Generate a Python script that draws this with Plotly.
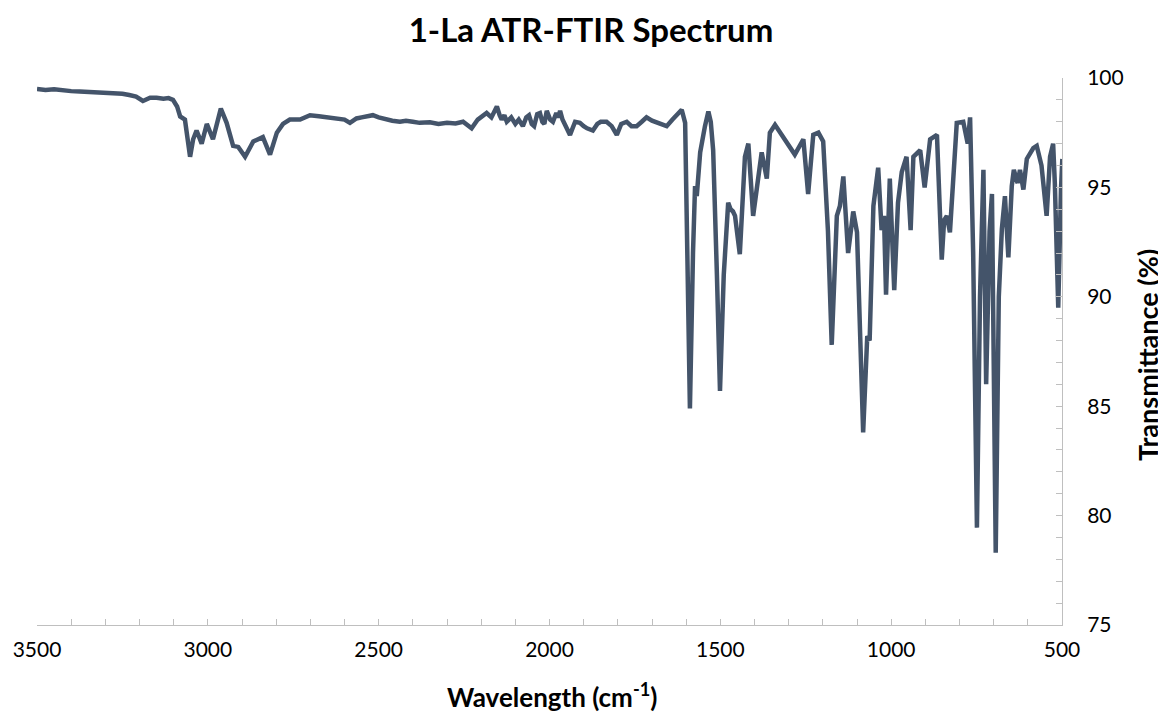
import plotly.graph_objects as go

wavenumber = [
    3500, 3475, 3450, 3425, 3400, 3375, 3350, 3325, 3300, 3275, 3250, 3230, 3210, 3190,
    3169, 3150, 3130, 3115, 3102, 3090, 3081, 3067, 3052, 3043, 3033, 3018, 3003, 2985,
    2962, 2945, 2926, 2911, 2891, 2867, 2839, 2818, 2798, 2780, 2760, 2730, 2701, 2675,
    2650, 2625, 2600, 2584, 2565, 2550, 2530, 2517, 2500, 2480, 2460, 2438, 2420, 2400,
    2380, 2350, 2325, 2300, 2275, 2253, 2240, 2228, 2210, 2195, 2184, 2170, 2162, 2154,
    2146, 2140, 2132, 2125, 2112, 2100, 2090, 2078, 2068, 2060, 2052, 2045, 2036, 2028,
    2021, 2015, 2008, 1998, 1990, 1980, 1974, 1969, 1962, 1955, 1940, 1925, 1911, 1900,
    1890, 1873, 1860, 1850, 1833, 1818, 1803, 1790, 1774, 1760, 1745, 1730, 1716, 1700,
    1690, 1675, 1657, 1640, 1613, 1603, 1595, 1589, 1580, 1574, 1569, 1559, 1545, 1535,
    1528, 1521, 1510, 1501, 1490, 1477, 1470, 1463, 1457, 1443, 1428, 1418, 1404, 1379,
    1364, 1355, 1340, 1316, 1282, 1257, 1243, 1228, 1213, 1199, 1185, 1174, 1159, 1150,
    1140, 1126, 1111, 1100, 1090, 1082, 1070, 1063, 1052, 1038, 1028, 1021, 1015, 1004,
    991, 980, 969, 955, 943, 935, 915, 902, 886, 866, 852, 845, 837, 828, 808, 789,
    776, 769, 760, 749, 740, 730, 722, 712, 705, 694, 685, 676, 667, 657, 647, 641,
    630, 623, 613, 603, 584, 574, 560, 545, 535, 526, 521, 511, 503, 499,
]
transmittance = [
    99.5, 99.45, 99.48, 99.42, 99.4, 99.38, 99.36, 99.35, 99.33, 99.3, 99.28, 99.22, 99.15, 98.95,
    99.1, 99.1, 99.05, 99.08, 99.0, 98.7, 98.24, 98.1, 96.4, 97.2, 97.6, 97.0, 97.9, 97.2,
    98.6, 97.95, 96.9, 96.85, 96.4, 97.1, 97.3, 96.5, 97.5, 97.9, 98.1, 98.1, 98.3, 98.25,
    98.2, 98.15, 98.1, 97.95, 98.15, 98.2, 98.25, 98.3, 98.2, 98.1, 98.05, 98.0, 98.05, 98.0,
    97.95, 97.98, 97.9, 97.95, 97.92, 98.0, 97.85, 97.7, 98.1, 98.25, 98.4, 98.2, 98.5, 98.7,
    98.3, 98.1, 98.3, 98.0, 98.2, 97.9, 98.1, 97.8, 98.2, 98.3, 97.9, 97.8, 98.35, 98.4,
    98.0, 97.9, 98.5, 98.1, 98.0, 98.4, 98.2, 98.5, 98.1, 97.9, 97.4, 98.0, 97.95, 97.8,
    97.7, 97.6, 97.9, 98.0, 98.0, 97.8, 97.4, 97.9, 98.0, 97.8, 97.8, 98.0, 98.2, 98.05,
    98.0, 97.9, 97.8, 98.1, 98.55, 97.95, 90.0, 84.9, 92.0, 95.06, 94.6, 96.6, 97.8, 98.47,
    98.0, 96.7, 91.0, 85.7, 91.0, 94.3, 94.0, 93.9, 93.7, 91.95, 96.4, 97.0, 93.7, 96.6,
    95.4, 97.5, 97.86, 97.27, 96.5, 97.2, 94.7, 97.4, 97.5, 97.1, 93.0, 87.8, 93.7, 94.15,
    95.5, 92.0, 93.9, 92.95, 88.0, 83.8, 88.2, 88.0, 94.15, 95.9, 93.05, 93.7, 90.1, 95.4,
    90.3, 94.3, 95.7, 96.4, 93.05, 96.4, 96.7, 95.0, 97.2, 97.4, 91.7, 93.5, 93.7, 92.95, 97.95, 98.0,
    97.0, 98.2, 92.0, 79.45, 90.0, 95.8, 86.0, 93.0, 94.7, 78.3, 90.0, 93.1, 94.6, 91.8, 95.06, 95.8,
    95.2, 95.8, 94.9, 96.3, 96.8, 96.9, 96.0, 93.7, 96.4, 97.0, 95.2, 89.5, 94.9, 96.3,
]

x_ticks = [3500, 3000, 2500, 2000, 1500, 1000, 500]
y_ticks = [75, 80, 85, 90, 95, 100]

title_text = "<b>1-La ATR-FTIR Spectrum</b>"
x_title = "<b>Wavelength (cm<sup>-1</sup>)</b>"
y_title = "<b>Transmittance (%)</b>"

FONT = "Lato, 'Open Sans', sans-serif"
AXIS = "#bfbfbf"

# page is drawn with an 8px body margin, so the figure is sized/placed to compensate
W, H = 1158, 705
L, T = 29, 70
PLOT_W, PLOT_H = 1025, 547

fig = go.Figure(
    go.Scatter(
        x=wavenumber,
        y=transmittance,
        mode="lines",
        line=dict(color="#44546a", width=4.5),
        hoverinfo="x+y",
    )
)

fig.update_layout(
    width=W,
    height=H,
    margin=dict(l=L, r=W - L - PLOT_W, t=T, b=H - T - PLOT_H, autoexpand=False),
    paper_bgcolor="white",
    plot_bgcolor="white",
    showlegend=False,
    font=dict(family=FONT, color="#000000", size=20),
    title=dict(
        text=title_text,
        x=583 / W,
        xref="container",
        xanchor="center",
        y=1 - 22 / H,
        yref="container",
        yanchor="middle",
        font=dict(family=FONT, size=33, color="#000000"),
        automargin=False,
    ),
    annotations=[
        dict(
            text=x_title, xref="paper", yref="paper", x=(544 - L) / PLOT_W, y=-(687 - T - PLOT_H) / PLOT_H,
            xanchor="center", yanchor="middle", showarrow=False,
            font=dict(family=FONT, size=26, color="#000000"),
        ),
        dict(
            text=y_title, xref="paper", yref="paper", x=(1140 - L) / PLOT_W, y=(T + PLOT_H - 347) / PLOT_H,
            xanchor="center", yanchor="middle", showarrow=False, textangle=-90,
            font=dict(family=FONT, size=27, color="#000000"),
        ),
    ],
)

fig.update_xaxes(
    range=[3500, 500],
    tickvals=x_ticks,
    ticktext=[str(v) for v in x_ticks],
    ticks="inside",
    ticklen=6,
    tickcolor=AXIS,
    showline=True,
    linecolor=AXIS,
    linewidth=1,
    showgrid=False,
    zeroline=False,
    automargin=False,
    minor=dict(dtick=100, ticks="inside", ticklen=6, tickcolor=AXIS, showgrid=False),
    tickfont=dict(family=FONT, size=21, color="#000000"),
    ticklabelstandoff=6,
)

fig.update_yaxes(
    range=[75, 100],
    side="right",
    tickvals=y_ticks,
    ticktext=[str(v) for v in y_ticks],
    ticks="inside",
    ticklen=6,
    tickcolor=AXIS,
    showline=True,
    linecolor=AXIS,
    linewidth=1,
    showgrid=False,
    zeroline=False,
    automargin=False,
    minor=dict(dtick=1, ticks="inside", ticklen=6, tickcolor=AXIS, showgrid=False),
    tickfont=dict(family=FONT, size=21, color="#000000"),
    ticklabelstandoff=20,
)

fig.write_html("out.html")
